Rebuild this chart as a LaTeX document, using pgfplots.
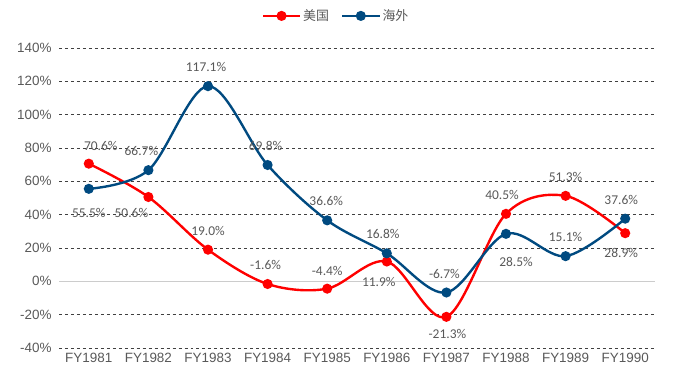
\documentclass[border=0pt]{standalone}
\usepackage{pgfplots}
\pgfplotsset{compat=1.18}
\usepackage{pgfplotstable}
\usepackage{fontspec}
\setmainfont{Carlito}
\newfontfamily\arialf{Liberation Sans}
\newfontfamily\cjk{Noto Sans CJK SC}
\definecolor{usred}{RGB}{255,0,0}
\definecolor{osblue}{RGB}{0,74,128}
\definecolor{txt}{RGB}{89,89,89}
\pgfplotstableread{
x y dx dy
0 70.6 12 18
1 50.6 -17 -16
2 19.0 0 19
3 -1.6 -2 19
4 -4.4 0 18
5 11.9 -8 -20
6 -21.3 1 -17
7 40.5 -4 19
8 51.3 0 19
9 28.9 -4 -20
}\us
\pgfplotstableread{
x y dx dy
0 55.5 0 -24
1 66.7 -7 19
2 117.1 -2 19
3 69.8 -2 19
4 36.6 -1 19
5 16.8 -4 19
6 -6.7 -2 19
7 28.5 10 -28
8 15.1 0 19
9 37.6 -4 19
}\os
\begin{document}
\begin{tikzpicture}
\path (0,0) rectangle (675bp,382bp);
\begin{axis}[
  at={(59bp,34bp)}, anchor=south west,
  scale only axis, width=596bp, height=300bp,
  xmin=-0.5, xmax=9.5, ymin=-40, ymax=140,
  axis line style={draw=none},
  /pgf/number format/assume math mode=true,
  xtick={0,...,9},
  xticklabels={FY1981,FY1982,FY1983,FY1984,FY1985,FY1986,FY1987,FY1988,FY1989,FY1990},
  ytick={-40,-20,20,40,60,80,100,120,140},
  yticklabel={\pgfmathprintnumber{\tick}\%},
  extra y ticks={0}, extra y tick labels={0\%},
  extra y tick style={grid=major, major grid style={solid, draw=black!20, line width=0.8pt}},
  ymajorgrids, major grid style={dashed, draw=black!75, line width=0.5pt},
  major tick length=0pt,
  tick label style={font=\arialf\fontsize{13.5}{15}\selectfont, text=txt},
  xticklabel style={yshift=-2bp},
  yticklabel style={xshift=-4bp},
  clip=false,
  legend columns=2,
  legend style={draw=none, at={(0.465,1.107)}, anchor=center, font=\cjk\fontsize{13}{15}\selectfont, text=txt, /tikz/every even column/.append style={column sep=10bp}, /tikz/every odd column/.append style={column sep=0bp}},
  legend image code/.code={\draw[#1, mark repeat=2, mark phase=2] plot coordinates {(0bp,0bp) (18.5bp,0bp) (37bp,0bp)};},
  every node near coord/.append style={font=\fontsize{13.5}{15}\selectfont, text=txt, anchor=center, xshift=\dx bp, yshift=\dy bp},
  nodes near coords={\pgfmathprintnumber[fixed,precision=1,fixed zerofill,assume math mode=true]{\pgfplotspointmeta}\%},
  visualization depends on={\thisrow{dx}\as\dx},
  visualization depends on={\thisrow{dy}\as\dy},
]
\addplot[usred, line width=2.4pt, smooth, tension=0.55, mark=*, mark size=3.8bp, mark options={solid}] table[x=x,y=y] {\us};
\addlegendentry{美国}
\addplot[osblue, line width=2.4pt, smooth, tension=0.55, mark=*, mark size=3.8bp, mark options={solid}] table[x=x,y=y] {\os};
\addlegendentry{海外}
\end{axis}
\end{tikzpicture}
\end{document}
